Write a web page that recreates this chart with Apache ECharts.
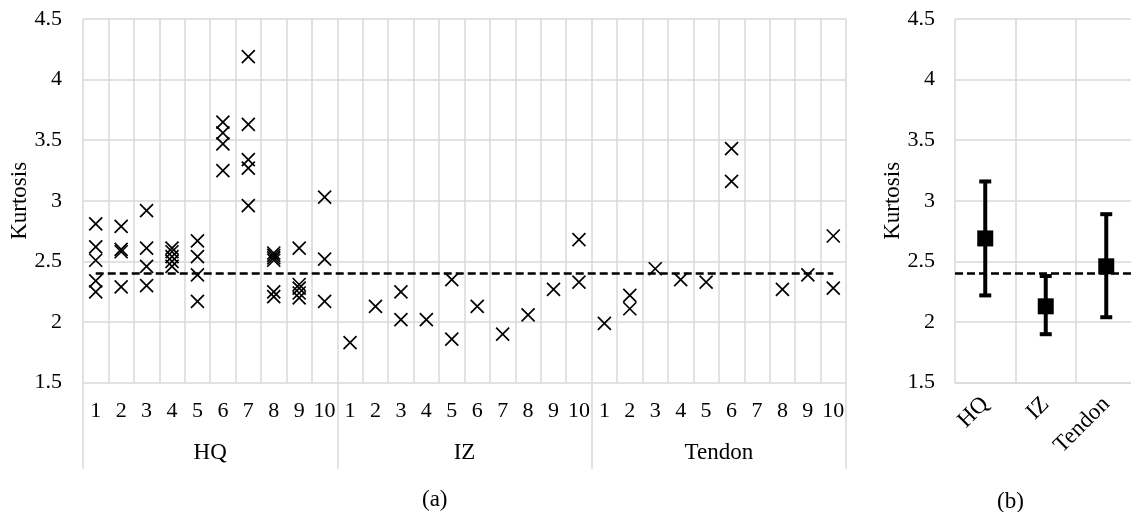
<!DOCTYPE html>
<html>
<head>
<meta charset="utf-8">
<script src="https://cdn.jsdelivr.net/npm/echarts@6/dist/echarts.min.js"></script>
<style>
html,body{margin:0;padding:0;background:#fff;}
#c{width:1131px;height:512px;}
</style>
</head>
<body>
<div id="c"></div>
<script>
// ---- data ----
const groups = ['HQ', 'IZ', 'Tendon'];
const subjects = ['1','2','3','4','5','6','7','8','9','10'];
const hqValues = [
  [2.81, 2.62, 2.51, 2.34, 2.25],
  [2.79, 2.60, 2.58, 2.29],
  [2.92, 2.61, 2.46, 2.30],
  [2.61, 2.58, 2.54, 2.50, 2.46],
  [2.67, 2.54, 2.39, 2.17],
  [3.65, 3.56, 3.47, 3.25],
  [4.19, 3.63, 3.34, 3.27, 2.96],
  [2.57, 2.55, 2.53, 2.51, 2.25, 2.21],
  [2.61, 2.31, 2.28, 2.24, 2.20],
  [3.03, 2.52, 2.17]
];
const izValues = [
  [1.83],
  [2.13],
  [2.25, 2.02],
  [2.02],
  [2.35, 1.86],
  [2.13],
  [1.90],
  [2.06],
  [2.27],
  [2.68, 2.33]
];
const tendonValues = [
  [1.99],
  [2.22, 2.11],
  [2.44],
  [2.35],
  [2.33],
  [3.43, 3.16],
  [],
  [2.27],
  [2.39],
  [2.71, 2.28]
];
const refLine = 2.4;
const meanValues = [2.69, 2.13, 2.46];
const lowValues = [2.22, 1.90, 2.04];
const highValues = [3.16, 2.38, 2.89];
const yTicks = {min: 1.5, max: 4.5, interval: 0.5};

// ---- build ----
const allGroups = [hqValues, izValues, tendonValues];
const categories = [];
const scatterData = [];
allGroups.forEach(function (g, gi) {
  g.forEach(function (vals, si) {
    const idx = categories.length;
    categories.push(groups[gi] + '-' + subjects[si]);
    vals.forEach(function (v) { scatterData.push([idx, v]); });
  });
});

const FONT = 'Liberation Serif';
const GRID_COLOR = '#d9d9d9';
const txt = {fontFamily: FONT, fontSize: 22, color: '#000'};

const chart = echarts.init(document.getElementById('c'), null, {renderer: 'canvas'});
chart.setOption({
  animation: false,
  backgroundColor: '#fff',
  grid: [
    {left: 83, top: 19, width: 763, height: 363.7, containLabel: false, outerBoundsMode: 'none'},
    {left: 955, top: 19, width: 181.5, height: 363.7, containLabel: false, outerBoundsMode: 'none'}
  ],
  xAxis: [
    {
      gridIndex: 0, type: 'category', data: categories, position: 'bottom',
      axisLine: {show: false}, axisTick: {show: false},
      axisLabel: Object.assign({}, txt, {interval: 0, margin: 18, lineHeight: 22,
        formatter: function (v) { return v.split('-')[1]; }}),
      splitLine: {show: true, interval: 0, lineStyle: {color: GRID_COLOR, width: 1.5}}
    },
    {
      gridIndex: 0, type: 'category', data: groups, position: 'bottom',
      axisLine: {show: false},
      axisTick: {show: true, interval: 0, length: 86, lineStyle: {color: GRID_COLOR, width: 1.5}},
      axisLabel: Object.assign({}, txt, {fontSize: 23, lineHeight: 23, margin: 59, interval: 0}),
      splitLine: {show: false}
    },
    {
      gridIndex: 1, type: 'category', data: groups,
      axisLine: {show: true, lineStyle: {color: GRID_COLOR, width: 1.5}},
      axisTick: {show: false},
      axisLabel: Object.assign({}, txt, {fontSize: 23, rotate: 45, margin: 18, interval: 0}),
      splitLine: {show: true, interval: 0, lineStyle: {color: GRID_COLOR, width: 1.5}}
    }
  ],
  yAxis: [
    {
      gridIndex: 0, type: 'value', min: yTicks.min, max: yTicks.max, interval: yTicks.interval,
      axisLine: {show: false}, axisTick: {show: false},
      axisLabel: Object.assign({}, txt, {margin: 21}),
      splitLine: {show: true, lineStyle: {color: GRID_COLOR, width: 1.5}},
      name: 'Kurtosis', nameLocation: 'middle', nameRotate: 90, nameGap: 52, nameMoveOverlap: false,
      nameTextStyle: {fontFamily: FONT, fontSize: 23, color: '#000'}
    },
    {
      gridIndex: 1, type: 'value', min: yTicks.min, max: yTicks.max, interval: yTicks.interval,
      axisLine: {show: false}, axisTick: {show: false},
      axisLabel: Object.assign({}, txt, {margin: 20}),
      splitLine: {show: true, lineStyle: {color: GRID_COLOR, width: 1.5}},
      name: 'Kurtosis', nameLocation: 'middle', nameRotate: 90, nameGap: 51, nameMoveOverlap: false,
      nameTextStyle: {fontFamily: FONT, fontSize: 23, color: '#000'}
    }
  ],
  series: [
    {
      type: 'scatter', xAxisIndex: 0, yAxisIndex: 0,
      data: scatterData,
      symbol: 'path://M0,0L10,10M10,0L0,10',
      symbolSize: 13,
      itemStyle: {color: 'rgba(0,0,0,0)', borderColor: '#000', borderWidth: 1.7, opacity: 1},
      markLine: {
        silent: true, symbol: 'none', label: {show: false},
        lineStyle: {color: '#000', type: [8, 4], width: 2.5},
        data: [[{coord: [0, refLine]}, {coord: [categories.length - 1, refLine]}]]
      },
      z: 3
    },
    {
      type: 'custom', xAxisIndex: 2, yAxisIndex: 1,
      data: groups.map(function (g, i) { return [i, lowValues[i], highValues[i]]; }),
      renderItem: function (params, api) {
        const lo = api.coord([api.value(0), api.value(1)]);
        const hi = api.coord([api.value(0), api.value(2)]);
        const hw = 6;
        const st = {stroke: '#000', lineWidth: 4};
        return {type: 'group', children: [
          {type: 'line', shape: {x1: lo[0], y1: lo[1], x2: hi[0], y2: hi[1]}, style: st},
          {type: 'line', shape: {x1: lo[0] - hw, y1: lo[1], x2: lo[0] + hw, y2: lo[1]}, style: st},
          {type: 'line', shape: {x1: hi[0] - hw, y1: hi[1], x2: hi[0] + hw, y2: hi[1]}, style: st}
        ]};
      },
      z: 3
    },
    {
      type: 'scatter', xAxisIndex: 2, yAxisIndex: 1,
      data: groups.map(function (g, i) { return [i, meanValues[i]]; }),
      symbol: 'rect', symbolSize: 16,
      itemStyle: {color: '#000', opacity: 1},
      markLine: {
        silent: true, symbol: 'none', label: {show: false},
        lineStyle: {color: '#000', type: [8, 4], width: 2.5},
        data: [{yAxis: refLine}]
      },
      z: 4
    }
  ],
  graphic: [
    {type: 'text', left: 422, top: 488, style: {text: '(a)', font: '23px "Liberation Serif"', fill: '#000'}},
    {type: 'text', left: 997, top: 490, style: {text: '(b)', font: '23px "Liberation Serif"', fill: '#000'}}
  ]
});
</script>
</body>
</html>
